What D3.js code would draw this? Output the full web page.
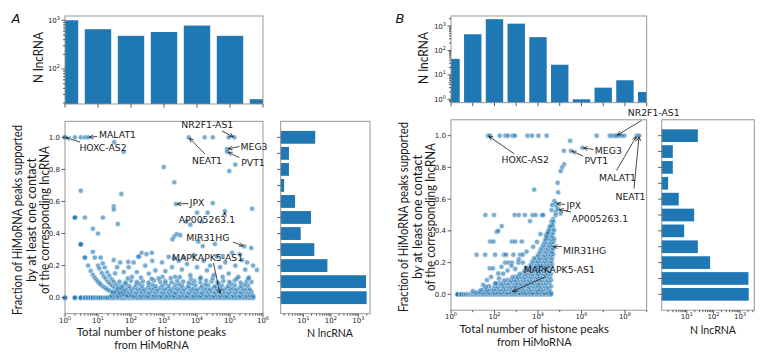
<!DOCTYPE html>
<html>
<head>
<meta charset="utf-8">
<script src="https://cdn.jsdelivr.net/npm/d3@7"></script>
<style>
body { margin: 0; background: #fff; }
text { font-family: "DejaVu Sans", sans-serif; }
.lab { font-family: Lato, "Open Sans", sans-serif; }
</style>
</head>
<body>
<svg width="763" height="354"></svg>
<script>
// ---------- data ----------
// top histograms: bin centres (peak count) and number of lncRNAs
const topBinsA = [1, 10, 100, 1e3, 1e4, 1e5, 1e6];
const topCountsA = [1000, 655, 480, 575, 780, 480, 24];
const topBinsB = [1, 10, 100, 1e3, 1e4, 1e5, 1e6, 1e7, 1e8, 1e9];
const topCountsB = [45, 460, 1900, 1250, 350, 26, 1, 3, 6, 2];

// right histograms: fraction bins and number of lncRNAs
const fracBins = [1.0, 0.9, 0.8, 0.7, 0.6, 0.5, 0.4, 0.3, 0.2, 0.1, 0.0];
const rightCountsA = [27, 3, 3, 2, 5, 19, 8, 25, 75, 1900, 2000];
const rightCountsB = [26, 3, 3, 2, 5, 19, 8, 26, 75, 2050, 2100];

// scatter A: lncRNAs with fraction 0 (peak counts)
const zeroRowA = [1,1,1,1,2,2,2,3,3,3,4,4,5,5,6,6,7,7,8,9,10,11,12,14,16,18,20,23,26,30,35,40,45,52,60,70,80,92,105,120,140,160,185,210,245,280,320,370,430,490,560,650,750,860,1000,1150,1300,1500,1750,2000,2300,2650,3050,3500,4000,4600,5300,6100,7000,8000,9200,10500,12000,14000,16000,18500,21000,24500,28000,32000,37000,43000,49000,56000,65000,75000,86000,100000,115000,130000,150000,175000,200000,230000,265000,305000,350000,400000,460000,520000];

// scatter A: small counts (few supported peaks)
const curveA = [[3,0.333],[3,0.333],[4,0.25],[4,0.25],[5,0.2],[6,0.167],[7,0.143],[8,0.125],[9,0.111],[10,0.1],[11,0.091],[12,0.083],[14,0.071],[16,0.063],[18,0.056],[20,0.05],[23,0.043],[27,0.037],[32,0.031],[38,0.026],[45,0.022],[55,0.018],[65,0.015],[80,0.0125],[100,0.01],
[7,0.286],[8,0.25],[10,0.2],[11,0.182],[13,0.154],[15,0.133],[17,0.118],[20,0.1],[23,0.087],[27,0.074],[32,0.0625],[38,0.053],[45,0.044],[55,0.036],[65,0.031],
[12,0.25],[14,0.214],[16,0.188],[19,0.158],[22,0.136],[26,0.115],[30,0.1],[36,0.083],[43,0.07],[50,0.06]];

// scatter A: dense low-fraction cloud
const denseA = [[25,.012],[32,.018],[40,.010],[50,.016],[63,.020],[79,.012],[100,.017],[126,.010],[158,.019],[200,.013],[250,.016],[320,.011],[400,.020],[500,.014],[630,.017],[790,.010],[1000,.019],[1260,.013],[1580,.016],[2000,.011],[2500,.020],[3200,.014],[4000,.017],[5000,.010],[6300,.019],[7900,.013],[10000,.016],[12600,.011],[15800,.020],[20000,.014],[25000,.017],[32000,.010],[40000,.019],[50000,.013],[63000,.016],[79000,.011],[100000,.020],[126000,.014],[158000,.017],[200000,.010],[250000,.019],[320000,.013],[400000,.016],[500000,.011],
[28,.034],[35,.038],[45,.031],[56,.036],[71,.040],[89,.033],[110,.037],[140,.030],[180,.039],[220,.034],[280,.036],[350,.031],[450,.040],[560,.035],[710,.038],[890,.032],[1100,.039],[1400,.033],[1800,.036],[2200,.031],[2800,.040],[3500,.034],[4500,.037],[5600,.030],[7100,.039],[8900,.033],[11000,.036],[14000,.031],[18000,.040],[22000,.035],[28000,.038],[35000,.032],[45000,.039],[56000,.033],[71000,.036],[89000,.031],[110000,.040],[140000,.034],[180000,.037],[220000,.032],[280000,.039],[350000,.034],[450000,.036],
[40,.055],[50,.060],[63,.052],[79,.058],[100,.054],[126,.061],[158,.053],[200,.057],[250,.051],[320,.060],[400,.055],[500,.058],[630,.052],[790,.061],[1000,.054],[1260,.057],[1580,.051],[2000,.060],[2500,.055],[3200,.058],[4000,.052],[5000,.061],[6300,.054],[7900,.057],[10000,.051],[12600,.060],[15800,.055],[20000,.058],[25000,.052],[32000,.061],[40000,.054],[50000,.057],[63000,.051],[79000,.060],[100000,.055],[126000,.058],[158000,.052],[200000,.061],[250000,.054],[320000,.057],[400000,.052],
[56,.075],[89,.072],[140,.079],[220,.074],[350,.078],[560,.071],[890,.077],[1400,.073],[2200,.080],[3500,.075],[5600,.072],[8900,.078],[14000,.074],[22000,.079],[35000,.071],[56000,.076],[89000,.073],[140000,.079],[220000,.074],[350000,.077],
[70,.083],[180,.086],[450,.082],[1100,.088],[2800,.084],[7100,.087],[18000,.083],[45000,.089],[110000,.085],[280000,.082],
[45,.1],[68,.095],[100,.105],[150,.098],[230,.102],[340,.094],[500,.108],[760,.099],[1100,.103],[1700,.096],[2500,.106],[3800,.1],[5600,.093],[8300,.104],[12500,.097],[19000,.107],[28000,.101],[42000,.095],[63000,.105],[95000,.099],[140000,.108],[210000,.094],[320000,.102],[450000,.098],
[80,.12],[200,.125],[420,.118],[900,.13],[1600,.122],[3000,.128],[6500,.117],[13000,.127],[30000,.121],[60000,.13],[160000,.119],[380000,.126]];

// scatter A: scattered higher fractions
const sparseA = [[1,1],[1,1],[1,1],[2,1],[3,1],[4,1],[5,1],[5600,1],[17000,1],[30000,1],[91000,1],[135000,1],
[31,0.97],[60,0.91],[980,0.815],[95000,0.79],[145000,0.83],[81000,0.927],[82000,0.91],
[2050,0.72],[3,0.667],[51,0.647],[2300,0.584],[30000,0.59],[470000,0.555],[30,0.57],[30,0.55],
[2,0.5],[2,0.5],[2,0.5],[4,0.5],[14,0.5],[40,0.46],[7,0.43],[10,0.4],
[10000,0.53],[21000,0.53],[70000,0.54],[4700,0.475],[6300,0.455],[14000,0.475],
[2050,0.383],[2450,0.397],[3100,0.39],[3,0.333],[3,0.333],[35000,0.335],[270000,0.32],[440000,0.31],
[1800,0.364],[11000,0.35],[15000,0.322],
[30,.235],[38,.19],[47,.22],[33,.152],[60,.16],[85,.19],[107,.13],[120,.22],[180,.256],[210,.28],[150,.16],[270,.2],[345,.15],[440,.23],[550,.17],[690,.12],[870,.22],[1100,.165],[1380,.255],[1740,.19],[2190,.13],[2760,.23],[3470,.175],[5000,.21],[6300,.14],[7900,.265],[10000,.19],[12600,.12],[15800,.23],[20000,.17],[25000,.2],[32000,.14],[40000,.255],[50000,.19],[72000,.22],[91000,.15],[115000,.28],[145000,.2],[180000,.13],[230000,.235],[290000,.175],[360000,.12],[650000,.173],
[83,.224],[166,.256],[295,.272],[427,.28],[2000,.245],[4000,.25],[60000,.26],[200000,.27],[330000,.22],[500000,.2]];

// scatter B
const zeroRowB = [2,2,2,2,3,3,3,3,4,4,4,5,5,5,6,6,7,7,8,8,9,10,10,11,12,13,14,15,17,19,21,23,26,29,32,36,40,45,50,56,63,70,80,90,100,115,130,145,160,180,200,225,250,280,320,360,400,450,500,560,630,700,800,900,1000,1150,1300,1450,1600,1800,2000,2250,2500,2800,3200,3600,4000,4500,5000,5600,6300,7000,8000,9000,10000,11500,13000,14500,16000,18000,20000,22500,25000,28000,32000,36000,41000];

const denseB = [[14,.012],[28,.009],[40,.013],[56,.010],[80,.015],[100,.008],[140,.012],[200,.010],[280,.014],[400,.009],[560,.013],[800,.011],[1000,.015],[1400,.008],[2000,.012],[2800,.010],[4000,.014],[5600,.009],[8000,.013],[10000,.011],[14000,.015],[20000,.008],[28000,.012],[40000,.010],
[34,.032],[67,.031],[94,.029],[120,.033],[170,.027],[240,.031],[340,.029],[470,.033],[670,.028],[940,.032],[1200,.027],[1700,.031],[2400,.029],[3400,.033],[4700,.028],[6700,.032],[9400,.027],[12000,.031],[17000,.029],[24000,.033],[34000,.028],
[56,.052],[100,.051],[140,.049],[200,.053],[280,.048],[400,.052],[560,.047],[800,.051],[1000,.049],[1400,.053],[2000,.048],[2800,.052],[4000,.047],[5600,.051],[8000,.049],[10000,.053],[14000,.048],[20000,.052],[28000,.047],[40000,.051],
[170,.072],[240,.067],[340,.071],[470,.069],[670,.073],[940,.068],[1200,.072],[1700,.067],[2400,.071],[3400,.069],[4700,.073],[6700,.068],[9400,.072],[12000,.067],[17000,.071],[24000,.069],[34000,.073],
[400,.092],[560,.087],[800,.091],[1000,.089],[1400,.093],[2000,.088],[2800,.092],[4000,.087],[5600,.091],[8000,.089],[10000,.093],[14000,.088],[20000,.092],[28000,.087],[40000,.091],
[940,.112],[1200,.107],[1700,.111],[2400,.109],[3400,.113],[4700,.108],[6700,.112],[9400,.107],[12000,.111],[17000,.109],[24000,.113],[34000,.108],
[2000,.132],[2800,.127],[4000,.131],[5600,.129],[8000,.133],[10000,.128],[14000,.132],[20000,.127],[28000,.131],[40000,.129],
[3400,.152],[4700,.147],[6700,.151],[9400,.149],[12000,.153],[17000,.148],[24000,.152],[34000,.147],
[4000,.172],[5600,.167],[8000,.171],[10000,.169],[14000,.173],[20000,.168],[28000,.172],[40000,.167],
[6700,.192],[9400,.187],[12000,.191],[17000,.189],[24000,.193],[34000,.188],[45000,.192],
[8000,.212],[10000,.207],[14000,.211],[20000,.209],[28000,.213],[40000,.208],
[9400,.232],[12000,.227],[17000,.231],[24000,.229],[34000,.233],[45000,.228],
[14000,.252],[20000,.247],[28000,.251],[40000,.249],[50000,.253],
[17000,.272],[24000,.267],[34000,.271],[45000,.269],
[20000,.292],[28000,.287],[40000,.291],[50000,.289],
[24000,.312],[34000,.307],[45000,.311],
[28000,.332],[40000,.327],[52000,.331],
[30000,.352],[42000,.347],[55000,.351],
[34000,.372],[45000,.367],
[38000,.392],[50000,.387],
[42000,.412],[55000,.407],
[48000,.432]];

const sparseB = [[50,1],[62,1],[175,1],[320,1],[420,1],[700,1],[870,1],[3300,1],[5300,1],[10500,1],[25000,1],
[5000000,1],[20000000,1],[26000000,1],[35000000,1],[40000000,1],[50000000,1],[70000000,1],[93000000,1],[350000000,1],[450000000,1],
[300000,.968],[1100000,.924],[155000,.905],[330000,.905],[160000,.82],[130000,.8],[110000,.777],[80000,.703],[6700,.66],[85000,.643],
[56000,.588],[65000,.573],[45000,.563],[71000,.552],[42000,.531],[65000,.52],[85000,.535],[110000,.51],[65000,.5],[50000,.475],[42000,.458],
[51000,.457],[44000,.437],[30000,.394],[23000,.374],[26000,.353],[32000,.395],[28000,.384],
[38,.5],[95,.5],[850,.5],[1300,.5],[2500,.5],[5600,.5],[7800,.5],[15000,.5],[17400,.5],
[4300,.462],[215,.43],[126,.395],[150,.4],
[63,.333],[89,.333],[630,.333],[890,.333],[1800,.333],
[15,.25],[37,.25],[107,.25],[275,.25],[340,.25],[740,.25],[1500,.25],[2000,.25],
[310,.2],[440,.2],[630,.2],[1260,.2],
[60,.164],[85,.164],[150,.132],[210,.174],
[10,.02],[20,.015],[24,.028],[47,.027],[40,.048],[120,.068],[280,.088],[670,.108],[1400,.128],[2400,.148],[2800,.168],[4700,.188],[5600,.208],[6700,.228],[10000,.248],[12000,.268],[14000,.288],[17000,.308],[20000,.328],[22000,.348],[25000,.368],[28000,.388],[32000,.408],[35000,.428],
[30,.06],[45,.09],[70,.11],[110,.07],[160,.1],[250,.13],[400,.15],[600,.18],[900,.16],[1300,.22],[2000,.2],[3000,.27],[6000,.3],[9000,.33],[13000,.38]];

// annotated lncRNAs: name and the point they mark
const namesA = ['MALAT1', 'HOXC-AS2', 'NR2F1-AS1', 'NEAT1', 'MEG3', 'PVT1', 'JPX', 'AP005263.1', 'MIR31HG', 'MAPKAPK5-AS1'];
const targetsA = [[5,1],[1,1],[135000,1],[5600,1],[81000,0.927],[82000,0.91],[2300,0.584],[70000,0.54],[270000,0.32],[50000,0.02]];
const namesB = ['HOXC-AS2', 'MEG3', 'PVT1', 'NR2F1-AS1', 'MALAT1', 'NEAT1', 'JPX', 'AP005263.1', 'MIR31HG', 'MAPKAPK5-AS1'];
const targetsB = [[50,1],[1100000,0.924],[330000,0.905],[40000000,1],[350000000,1],[450000000,1],[65000,0.573],[85000,0.535],[45000,0.3],[600,0.015]];

// ---------- layout ----------
const layoutA = {
  id: 'A', xDomain: [1, 1e6], sx0: 65, sx1: 263, sy0: 121.3, sy1: 313.7,
  ty0: 16, ty1: 104, topDomain: [19.1, 1225], topBinW: 0.4,
  rx0: 280.7, rx1: 370, rightDomain: [1.5, 2650],
  xMajor: [0, 1, 2, 3, 4, 5, 6], xMinorSubs: true, xMinorDec: [],
  // text centre x, centre y, arrow start x, y
  notes: [[117.5,134.5,97,136.5],[103,147.5,80,142],[207.3,124,222,131],[207,160.5,205,154],[254,146.5,239.5,146.5],[253,162.5,239,157.5],[197,202.5,188.5,203.5],[207,219,224.5,215],[207.8,237.5,233,242],[207.5,257.2,213.5,263]],
  letter: [16, 22.5], topLab: [38, 57.5, 51],
  yLab: [17.5, 31, 44.5, 220], xLab: [151.5, 331.2, 344.4], rightLab: [330, 332.5]
};
const layoutB = {
  id: 'B', xDomain: [1, 1e9], sx0: 451, sx1: 646.7, sy0: 119.8, sy1: 310.2,
  ty0: 16, ty1: 102.7, topDomain: [0.726, 2570], topBinW: 0.4,
  rx0: 661.7, rx1: 754.3, rightDomain: [1.15, 3400],
  xMajor: [0, 2, 4, 6, 8], xMinorSubs: false, xMinorDec: [1, 3, 5, 7, 9],
  notes: [[525.2,159.7,514.5,154],[608.3,150.8,593.5,149.5],[596.3,160.8,583,156],[653.7,112.7,641.5,120.5],[617.5,177.5,616.5,170.5],[630.5,196.8,634,188.5],[573.8,205.8,565,204.5],[600,218.8,571,212],[584.7,250,562,246.5],[559.3,269.5,546,276.5]],
  letter: [400, 22.5], topLab: [423.3, 58, 52],
  yLab: [403.5, 417, 430.5, 217], xLab: [534.3, 328.3, 341.5], rightLab: [713, 329]
};

const svg = d3.select('svg');
const BLUE = '#1f77b4';
const SPINE = '#8c8c8c';
const TICK = '#333';

function tick(g, x1, y1, x2, y2) {
  g.append('line').attr('x1', x1).attr('y1', y1).attr('x2', x2).attr('y2', y2)
    .attr('stroke', TICK).attr('stroke-width', 0.8);
}

function powLabel(g, x, y, exp, anchor) {
  const t = g.append('text').attr('x', x).attr('y', y).attr('text-anchor', anchor)
    .attr('font-size', 7).attr('fill', '#262626');
  t.append('tspan').text('10');
  t.append('tspan').attr('dy', -3).attr('font-size', 5).text(exp);
}

function frame(g, x0, y0, x1, y1) {
  g.append('rect').attr('x', x0).attr('y', y0).attr('width', x1 - x0).attr('height', y1 - y0)
    .attr('fill', 'none').attr('stroke', SPINE).attr('stroke-width', 0.9);
}

function fitText(g, txt, x, y, w, size, rot) {
  const t = g.append('text').attr('class', 'lab').attr('text-anchor', 'middle')
    .attr('dominant-baseline', 'central').attr('font-size', size).attr('fill', '#1a1a1a')
    .attr('textLength', w).attr('lengthAdjust', 'spacingAndGlyphs').text(txt);
  if (rot) t.attr('transform', `translate(${x},${y}) rotate(-90)`);
  else t.attr('x', x).attr('y', y);
  return t;
}

function drawPanel(L, topBins, topCounts, rightCounts, points, names, targets) {
  const g = svg.append('g');
  const x = d3.scaleLog().domain(L.xDomain).range([L.sx0, L.sx1]);
  const y = d3.scaleLinear().domain([-0.1, 1.1]).range([L.sy1, L.sy0]);
  const yTop = d3.scaleLog().domain(L.topDomain).range([L.ty1, L.ty0]);
  const xR = d3.scaleLog().domain(L.rightDomain).range([L.rx0, L.rx1]);

  const defs = g.append('defs');
  defs.append('clipPath').attr('id', 'clipTop' + L.id).append('rect')
    .attr('x', L.sx0).attr('y', L.ty0).attr('width', L.sx1 - L.sx0).attr('height', L.ty1 - L.ty0);
  defs.append('clipPath').attr('id', 'clipR' + L.id).append('rect')
    .attr('x', L.rx0).attr('y', L.sy0).attr('width', L.rx1 - L.rx0).attr('height', L.sy1 - L.sy0);

  // top histogram
  const bw = Math.pow(10, L.topBinW);
  g.append('g').attr('clip-path', `url(#clipTop${L.id})`)
    .selectAll('rect').data(d3.zip(topBins, topCounts)).join('rect')
    .attr('x', d => x(d[0] / bw)).attr('width', d => x(d[0] * bw) - x(d[0] / bw))
    .attr('y', d => yTop(d[1])).attr('height', d => L.ty1 - yTop(d[1]))
    .attr('fill', BLUE);
  frame(g, L.sx0, L.ty0, L.sx1, L.ty1);
  topBins.forEach(b => tick(g, x(b), L.ty1, x(b), L.ty1 + 3.5));
  for (let e = -1; e <= 4; e++) {
    for (let s = 1; s <= 9; s++) {
      const v = s * Math.pow(10, e);
      if (v < L.topDomain[0] || v > L.topDomain[1]) continue;
      if (s === 1) {
        tick(g, L.sx0 - 3.5, yTop(v), L.sx0, yTop(v));
        powLabel(g, L.sx0 - 5, yTop(v) + 2.5, String(e), 'end');
      } else tick(g, L.sx0 - 2, yTop(v), L.sx0, yTop(v));
    }
  }

  // scatter
  g.append('g').selectAll('circle').data(points).join('circle')
    .attr('cx', d => x(d[0])).attr('cy', d => y(d[1])).attr('r', 2.6)
    .attr('fill', BLUE).attr('opacity', 0.6)
    .attr('stroke', '#fff').attr('stroke-width', 0.6);
  frame(g, L.sx0, L.sy0, L.sx1, L.sy1);
  [0, 0.2, 0.4, 0.6, 0.8, 1.0].forEach(v => {
    tick(g, L.sx0 - 3.5, y(v), L.sx0, y(v));
    g.append('text').attr('x', L.sx0 - 5).attr('y', y(v) + 2.5).attr('text-anchor', 'end')
      .attr('font-size', 7).attr('fill', '#262626').text(v.toFixed(1));
  });
  L.xMajor.forEach(e => {
    const px = x(Math.pow(10, e));
    tick(g, px, L.sy1, px, L.sy1 + 3.5);
    powLabel(g, px, L.sy1 + 9, String(e), 'middle');
  });
  if (L.xMinorSubs) {
    for (let e = 0; e < 6; e++) for (let s = 2; s <= 9; s++) {
      const px = x(s * Math.pow(10, e));
      tick(g, px, L.sy1, px, L.sy1 + 2);
    }
  }
  L.xMinorDec.forEach(e => {
    const px = x(Math.pow(10, e));
    tick(g, px, L.sy1, px, L.sy1 + 2);
  });

  // annotations
  names.forEach((n, i) => {
    const [tx, ty, ax, ay] = L.notes[i];
    const px = x(targets[i][0]), py = y(targets[i][1]);
    g.append('text').attr('x', tx).attr('y', ty).attr('text-anchor', 'middle')
      .attr('dominant-baseline', 'central').attr('font-size', 9.3).attr('fill', '#1a1a1a').text(n);
    const ang = Math.atan2(py - ay, px - ax);
    const ex = px - 1.2 * Math.cos(ang), ey = py - 1.2 * Math.sin(ang);
    g.append('line').attr('x1', ax).attr('y1', ay).attr('x2', ex).attr('y2', ey)
      .attr('stroke', '#1a1a1a').attr('stroke-width', 0.8);
    [0.45, -0.45].forEach(da => {
      g.append('line').attr('x1', ex).attr('y1', ey)
        .attr('x2', ex - 4.5 * Math.cos(ang + da)).attr('y2', ey - 4.5 * Math.sin(ang + da))
        .attr('stroke', '#1a1a1a').attr('stroke-width', 0.8);
    });
  });

  // right histogram
  g.append('g').attr('clip-path', `url(#clipR${L.id})`)
    .selectAll('rect').data(d3.zip(fracBins, rightCounts)).join('rect')
    .attr('x', L.rx0 - 2).attr('width', d => xR(d[1]) - L.rx0 + 2)
    .attr('y', d => y(d[0] + 0.04)).attr('height', d => y(d[0] - 0.04) - y(d[0] + 0.04))
    .attr('fill', BLUE);
  frame(g, L.rx0, L.sy0, L.rx1, L.sy1);
  fracBins.forEach(f => tick(g, L.rx0 - 3.5, y(f), L.rx0, y(f)));
  for (let e = 0; e <= 3; e++) for (let s = 1; s <= 9; s++) {
    const v = s * Math.pow(10, e);
    if (v < L.rightDomain[0] || v > L.rightDomain[1]) continue;
    const px = xR(v);
    if (s === 1) {
      tick(g, px, L.sy1, px, L.sy1 + 3.5);
      powLabel(g, px, L.sy1 + 9, String(e), 'middle');
    } else tick(g, px, L.sy1, px, L.sy1 + 2);
  }

  // labels
  g.append('text').attr('x', L.letter[0]).attr('y', L.letter[1]).attr('text-anchor', 'middle')
    .attr('font-family', 'Liberation Sans, sans-serif').attr('font-style', 'italic')
    .attr('font-size', 13).attr('fill', '#111').text(L.id);
  fitText(g, 'N lncRNA', L.topLab[0], L.topLab[1], L.topLab[2], 13, true);
  fitText(g, 'Fraction of HiMoRNA peaks supported', L.yLab[0], L.yLab[3], 190, 12.5, true);
  fitText(g, 'by at least one contact', L.yLab[1], L.yLab[3], 124, 12.5, true);
  fitText(g, 'of the corresponding lncRNA', L.yLab[2], L.yLab[3], 148, 12.5, true);
  fitText(g, 'Total number of histone peaks', L.xLab[0], L.xLab[1], 149.5, 11, false);
  fitText(g, 'from HiMoRNA', L.xLab[0], L.xLab[2], 74.5, 11, false);
  fitText(g, 'N lncRNA', L.rightLab[0], L.rightLab[1], 46, 11.5, false);
}

const pointsA = zeroRowA.map(v => [v, 0]).concat(curveA, denseA, sparseA);
const pointsB = zeroRowB.map(v => [v, 0]).concat(denseB, sparseB);

drawPanel(layoutA, topBinsA, topCountsA, rightCountsA, pointsA, namesA, targetsA);
drawPanel(layoutB, topBinsB, topCountsB, rightCountsB, pointsB, namesB, targetsB);
</script>
</body>
</html>
